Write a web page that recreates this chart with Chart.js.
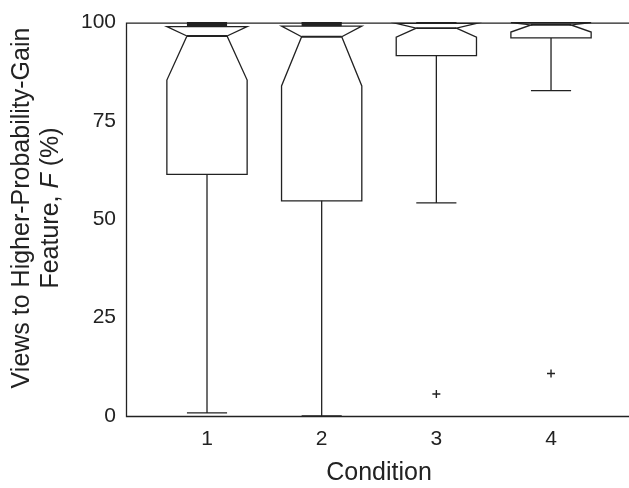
<!DOCTYPE html>
<html>
<head>
<meta charset="utf-8">
<script src="https://cdn.jsdelivr.net/npm/chart.js@4"></script>
<style>
  body { margin: 0; background: #fff; overflow: hidden; }
</style>
</head>
<body>
<canvas id="canvas" width="629" height="488"></canvas>
<script>
var categories = [1, 2, 3, 4];
var q1 = [61.4, 54.7, 91.6, 96.1];
var notchLo = [85.4, 83.9, 96.3, 97.6];
var medians = [96.6, 96.4, 98.6, 99.4];
var q3 = [99.0, 99.1, 99.8, 100];
var whiskerLo = [0.8, 0, 54.2, 82.7];
var whiskerHi = [100, 100, 100, 100];
var outlierX = [3, 4];
var outlierY = [5.6, 10.8];
var yTicks = [0, 25, 50, 75, 100];

var INK = '#222';
var FONT = "'Liberation Sans', Arial, sans-serif";

// boxes, whiskers and frame drawn through the scales
var boxPlugin = {
  id: 'boxes',
  afterDatasetsDraw: function(chart) {
    var ctx = chart.ctx;
    var xs = chart.scales.x, ys = chart.scales.y;
    var area = chart.chartArea;
    var half = xs.getPixelForValue(1.35) - xs.getPixelForValue(1);
    ctx.save();
    ctx.strokeStyle = INK;
    ctx.fillStyle = INK;
    ctx.lineWidth = 1.3;
    for (var i = 0; i < categories.length; i++) {
      var cx = xs.getPixelForValue(categories[i]);
      var yq1 = ys.getPixelForValue(q1[i]);
      var ynl = ys.getPixelForValue(notchLo[i]);
      var ymd = ys.getPixelForValue(medians[i]);
      var yq3 = ys.getPixelForValue(q3[i]);
      var ywl = ys.getPixelForValue(whiskerLo[i]);
      var ywh = ys.getPixelForValue(whiskerHi[i]);
      // notched box
      ctx.beginPath();
      ctx.moveTo(cx - half, yq1);
      ctx.lineTo(cx - half, ynl);
      ctx.lineTo(cx - half / 2, ymd);
      ctx.lineTo(cx - half, yq3);
      ctx.lineTo(cx + half, yq3);
      ctx.lineTo(cx + half / 2, ymd);
      ctx.lineTo(cx + half, ynl);
      ctx.lineTo(cx + half, yq1);
      ctx.closePath();
      ctx.stroke();
      // median
      ctx.lineWidth = 1.8;
      ctx.beginPath();
      ctx.moveTo(cx - half / 2, ymd);
      ctx.lineTo(cx + half / 2, ymd);
      ctx.stroke();
      ctx.lineWidth = 1.3;
      // whiskers
      ctx.beginPath();
      ctx.moveTo(cx, yq1); ctx.lineTo(cx, ywl);
      ctx.moveTo(cx - half / 2, ywl); ctx.lineTo(cx + half / 2, ywl);
      ctx.moveTo(cx - half / 2, ywh); ctx.lineTo(cx + half / 2, ywh);
      ctx.stroke();
      // short upper whisker packed between q3 and cap
      if (ywh < yq3) ctx.fillRect(cx - half / 2, ywh, half, yq3 - ywh);
    }
    // frame: left, bottom, top
    ctx.lineWidth = 1.3;
    ctx.beginPath();
    ctx.moveTo(area.right, area.top + 0.5);
    ctx.lineTo(area.left + 0.5, area.top + 0.5);
    ctx.lineTo(area.left + 0.5, area.bottom + 0.5);
    ctx.lineTo(area.right, area.bottom + 0.5);
    ctx.stroke();

    // axis titles
    ctx.font = '25px ' + FONT;
    ctx.textAlign = 'center';
    ctx.textBaseline = 'middle';
    ctx.fillText('Condition', (xs.getPixelForValue(1) + xs.getPixelForValue(4)) / 2, 473);

    ctx.translate(0, 208);
    ctx.rotate(-Math.PI / 2);
    ctx.fillText('Views to Higher-Probability-Gain', 0, 22);
    var a = 'Feature, ', b = 'F', c = ' (%)';
    ctx.font = '25px ' + FONT;
    var wa = ctx.measureText(a).width, wc = ctx.measureText(c).width;
    ctx.font = 'italic 25px ' + FONT;
    var wb = ctx.measureText(b).width;
    var x0 = -(wa + wb + wc) / 2;
    ctx.textAlign = 'left';
    ctx.font = '25px ' + FONT;
    ctx.fillText(a, x0, 51);
    ctx.font = 'italic 25px ' + FONT;
    ctx.fillText(b, x0 + wa, 51);
    ctx.font = '25px ' + FONT;
    ctx.fillText(c, x0 + wa + wb, 51);
    ctx.restore();
  }
};

var outlierData = outlierX.map(function(x, i) { return { x: x, y: outlierY[i] }; });

var config = {
  type: 'scatter',
  data: {
    datasets: [{
      label: 'outliers',
      data: outlierData,
      pointStyle: 'cross',
      radius: 4,
      borderWidth: 1.4,
      borderColor: INK,
      backgroundColor: INK
    }]
  },
  options: {
    responsive: false,
    animation: false,
    devicePixelRatio: 1,
    layout: { autoPadding: false, padding: { top: 20, left: 0, right: 0, bottom: 0 } },
    plugins: { legend: { display: false }, tooltip: { enabled: false } },
    scales: {
      x: {
        type: 'linear',
        min: 0.2936,
        max: 4.68,
        grid: { display: false, drawTicks: false },
        border: { display: false },
        afterBuildTicks: function(s) { s.ticks = categories.map(function(v) { return { value: v }; }); },
        afterFit: function(s) { s.height = 72; s.paddingLeft = 0; s.paddingRight = 0; },
        ticks: { padding: 11, color: INK, font: { family: FONT, size: 21 }, maxRotation: 0,
          callback: function(v) { return String(v); } }
      },
      y: {
        min: 0,
        max: 100,
        grid: { display: false, drawTicks: false },
        border: { display: false },
        afterBuildTicks: function(s) { s.ticks = yTicks.map(function(v) { return { value: v }; }); },
        afterFit: function(s) { s.width = 126; },
        ticks: { padding: 10, color: INK, font: { family: FONT, size: 21 } }
      }
    }
  },
  plugins: [boxPlugin]
};

window.onload = function() {
  var ctx = document.getElementById('canvas').getContext('2d');
  window.myChart = new Chart(ctx, config);
};
</script>
</body>
</html>
